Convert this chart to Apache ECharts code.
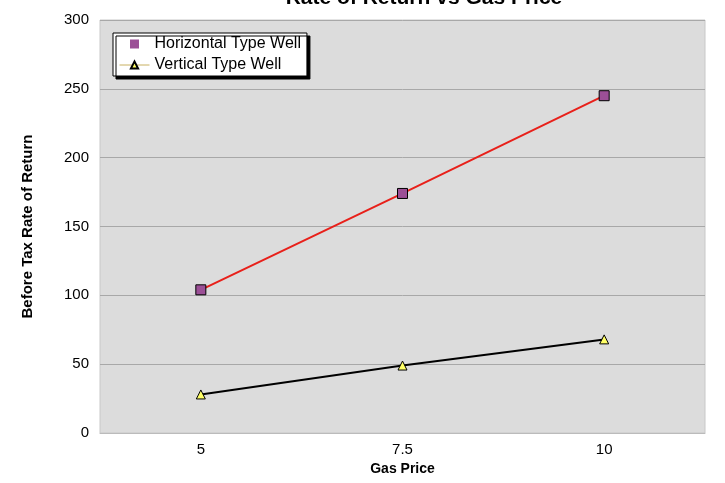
<!DOCTYPE html>
<html>
<head>
<meta charset="utf-8">
<script src="https://cdn.jsdelivr.net/npm/echarts@6/dist/echarts.min.js"></script>
<style>
  html, body { margin: 0; padding: 0; background: #fff; }
  #chart { width: 725px; height: 483px; }
</style>
</head>
<body>
<div id="chart"></div>
<script>
// gas price categories
const gasPrices = ['5', '7.5', '10']
// before tax rate of return
const horizontalWell = [104, 174, 245]
const verticalWell = [28, 49, 68]

const chart = echarts.init(document.getElementById('chart'))

const font = 'Arial, Liberation Sans'

const option = {
  animation: false,
  title: {
    text: 'Rate of Return vs Gas Price',
    left: 419,
    textAlign: 'center',
    top: -17,
    textStyle: { fontFamily: font, fontSize: 21, fontWeight: 'bold', color: '#000' },
  },
  legend: {
    left: 113,
    top: 33,
    orient: 'vertical',
    itemGap: 5,
    itemWidth: 30,
    itemHeight: 9,
    padding: [3, 6, 3, 6],
    backgroundColor: '#fff',
    borderColor: '#000',
    borderWidth: 1,
    shadowColor: '#000',
    shadowOffsetX: 3,
    shadowOffsetY: 3,
    shadowBlur: 0,
    textStyle: { fontFamily: font, fontSize: 16, color: '#000' },
    data: [
      { name: 'Horizontal Type Well', icon: 'path://M0,0h10v10h-10z', itemStyle: { borderWidth: 0 } },
      { name: 'Vertical Type Well', lineStyle: { color: '#c8b060', width: 1 } },
    ],
  },
  grid: {
    left: 100,
    right: 20,
    top: 20,
    bottom: 50,
    show: true,
    backgroundColor: '#dcdcdc',
    borderColor: '#c8c8c8',
    borderWidth: 1,
  },
  xAxis: {
    type: 'category',
    data: gasPrices,
    name: 'Gas Price',
    nameLocation: 'middle',
    nameGap: 26,
    nameTextStyle: { fontFamily: font, fontSize: 14, fontWeight: 'bold', color: '#000' },
    axisLine: { lineStyle: { color: '#bbb' } },
    axisTick: { show: false },
    axisLabel: { fontFamily: font, fontSize: 15, color: '#000', margin: 9 },
  },
  yAxis: {
    type: 'value',
    min: 0,
    max: 300,
    interval: 50,
    name: 'Before Tax Rate of Return',
    nameLocation: 'middle',
    nameGap: 65,
    nameTextStyle: { fontFamily: font, fontSize: 15, fontWeight: 'bold', color: '#000' },
    axisLine: { show: false },
    axisTick: { show: false },
    splitLine: { lineStyle: { color: '#a8a8a8', width: 1 } },
    axisLabel: { fontFamily: font, fontSize: 15, color: '#000', margin: 11 },
  },
  series: [
    {
      name: 'Horizontal Type Well',
      type: 'line',
      data: horizontalWell,
      symbol: 'rect',
      symbolSize: 10,
      lineStyle: { color: '#e8201a', width: 2 },
      itemStyle: { color: '#9b4f96', borderColor: '#000', borderWidth: 1 },
    },
    {
      name: 'Vertical Type Well',
      type: 'line',
      data: verticalWell,
      symbol: 'triangle',
      symbolSize: 9,
      lineStyle: { color: '#000', width: 2 },
      itemStyle: { color: '#ffff66', borderColor: '#000', borderWidth: 1 },
    },
  ],
}

chart.setOption(option)
</script>
</body>
</html>
